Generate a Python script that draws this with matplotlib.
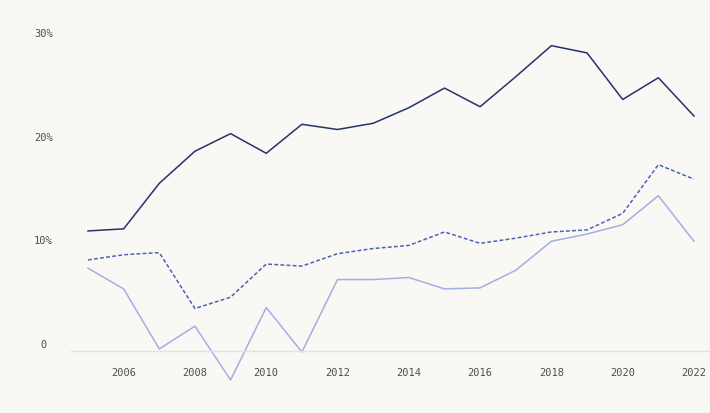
import matplotlib

matplotlib.use("Agg")
import matplotlib.pyplot as plt  # noqa: E402
import matplotlib.transforms as mtransforms  # noqa: E402

# values (percent)
years = list(range(2005, 2023))
top_series = [11.6, 11.8, 16.2, 19.3, 21.0, 19.1, 21.9, 21.4, 22.0, 23.5,
              25.4, 23.6, 26.5, 29.5, 28.8, 24.3, 26.4, 22.7]
mid_series = [8.8, 9.3, 9.5, 4.1, 5.2, 8.4, 8.2, 9.4, 9.9, 10.2,
              11.5, 10.4, 10.9, 11.5, 11.7, 13.3, 18.0, 16.6]
low_series = [8.0, 6.0, 0.2, 2.4, -2.8, 4.2, -0.1, 6.9, 6.9, 7.1,
              6.0, 6.1, 7.8, 10.6, 11.3, 12.2, 15.0, 10.6]
x_ticks = list(range(2006, 2023, 2))
y_ticks = [0, 10, 20, 30]
y_labels = ["0", "10%", "20%", "30%"]

BG = "#f9f8f4"
TEXT = "#4d4d4d"

plt.rcParams["font.family"] = ["DejaVu Sans Mono"]

fig = plt.figure(figsize=(7.10, 4.13), dpi=100, facecolor=BG)
ax = fig.add_axes([71 / 710, 62 / 413, 639 / 710, 351 / 413])
ax.set_facecolor(BG)

ax.plot(years, top_series, color="#26336a", lw=1.1, clip_on=False)
ax.plot(years, mid_series, color="#4b62b5", lw=1.1, ls=(0, (2.5, 1.5)), clip_on=False)
ax.plot(years, low_series, color="#a4afe0", lw=1.1, clip_on=False)

ax.set_xlim(2004.523, 2022.449)
ax.set_ylim(0, 33.91)

for side in ["top", "right", "left"]:
    ax.spines[side].set_visible(False)
ax.spines["bottom"].set_color("#e4e2dc")
ax.spines["bottom"].set_linewidth(1.0)

ax.set_xticks(x_ticks)
ax.set_xticklabels([str(y) for y in x_ticks])
ax.set_yticks(y_ticks)
ax.set_yticklabels(y_labels)
ax.tick_params(axis="both", length=0, labelsize=7.5, labelcolor=TEXT)
ax.tick_params(axis="x", pad=12)
ax.tick_params(axis="y", pad=20)
for lab in ax.get_yticklabels():
    lab.set_horizontalalignment("center")
    lab.set_transform(lab.get_transform()
                      + mtransforms.ScaledTranslation(0, 7 / 100, fig.dpi_scale_trans))

fig.savefig("out.png", dpi=100, facecolor=BG)
